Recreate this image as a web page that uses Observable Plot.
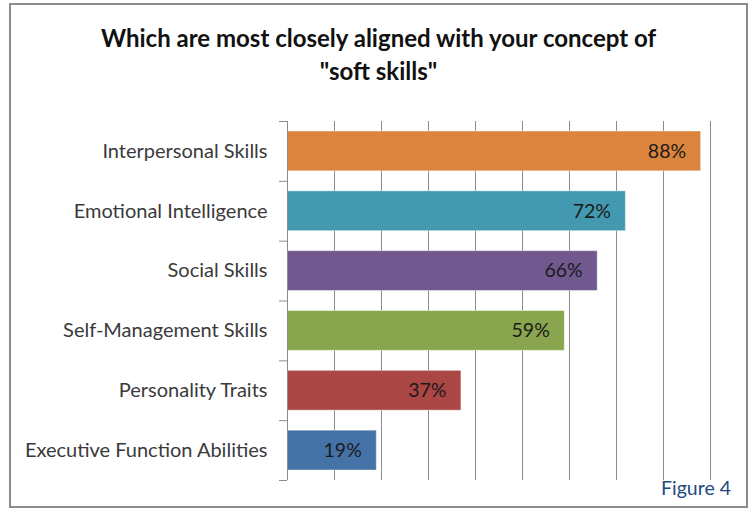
<!DOCTYPE html>
<html>
<head>
<meta charset="utf-8">
<script src="https://cdn.jsdelivr.net/npm/d3@7"></script>
<script src="https://cdn.jsdelivr.net/npm/@observablehq/plot@0.6"></script>
<style>
  html, body { margin: 0; padding: 0; background: #fff; }
  #wrap { position: relative; width: 752px; height: 510px; overflow: hidden; font-family: Lato, "Open Sans", sans-serif; }
  #frame { position: absolute; left: 9px; top: 3px; width: 735px; height: 501px; border: 2px solid #8c8c8c; }
  #title { position: absolute; left: 10px; width: 737px; top: 21px; text-align: center; font-weight: bold; font-size: 24px; line-height: 33px; color: #111; }
  #chart { position: absolute; left: 0; top: 0; }
  #fig { position: absolute; left: 661px; top: 476px; font-size: 19.5px; color: #1F497D; }
</style>
</head>
<body>
<div id="wrap">
  <div id="frame"></div>
  <div id="chart"></div>
  <div id="title">Which are most closely aligned with your concept of<br>"soft skills"</div>
  <div id="fig">Figure 4</div>
</div>
<script>
const categories = ["Interpersonal Skills", "Emotional Intelligence", "Social Skills", "Self-Management Skills", "Personality Traits", "Executive Function Abilities"];
const values = [0.88, 0.72, 0.66, 0.59, 0.37, 0.19];
const colors = ["#DB843D", "#4399B0", "#71588F", "#89A54E", "#AA4643", "#4572A7"];
const gridTicks = [0.1, 0.2, 0.3, 0.4, 0.5, 0.6, 0.7, 0.8, 0.9];

const data = categories.map((name, i) => ({name, i, value: values[i], color: colors[i]}));

const chart = Plot.plot({
  width: 752,
  height: 510,
  marginLeft: 287,
  marginRight: 42,
  marginTop: 121,
  marginBottom: 30,
  style: {fontFamily: "Lato, 'Open Sans', sans-serif", background: "transparent"},
  x: {domain: [0, 0.9], axis: null},
  y: {domain: [0, categories.length], reverse: true, axis: null},
  marks: [
    Plot.ruleX(gridTicks, {stroke: "#8c8c8c", strokeWidth: 1}),
    Plot.rectX(data, {x1: 0, x2: "value", y1: "i", y2: d => d.i + 1, fill: "color", insetTop: 10, insetBottom: 10, stroke: "#ffffff", strokeOpacity: 0.45, strokeWidth: 1}),
    Plot.ruleX([0], {stroke: "#8c8c8c", strokeWidth: 1}),
    Plot.axisY(d3.range(categories.length + 1), {tickSize: 8, tickFormat: () => "", stroke: "#8c8c8c", label: null}),
    Plot.text(data, {x: 0, y: d => d.i + 0.5, text: "name", textAnchor: "end", dx: -20, fontSize: 20, fill: "#3a3a3a"}),
    Plot.text(data, {x: "value", y: d => d.i + 0.5, text: d => Math.round(d.value * 100) + "%", textAnchor: "end", dx: -15, fontSize: 19.5, fill: "#1a1a1a"})
  ]
});
document.getElementById("chart").appendChild(chart);
</script>
</body>
</html>
